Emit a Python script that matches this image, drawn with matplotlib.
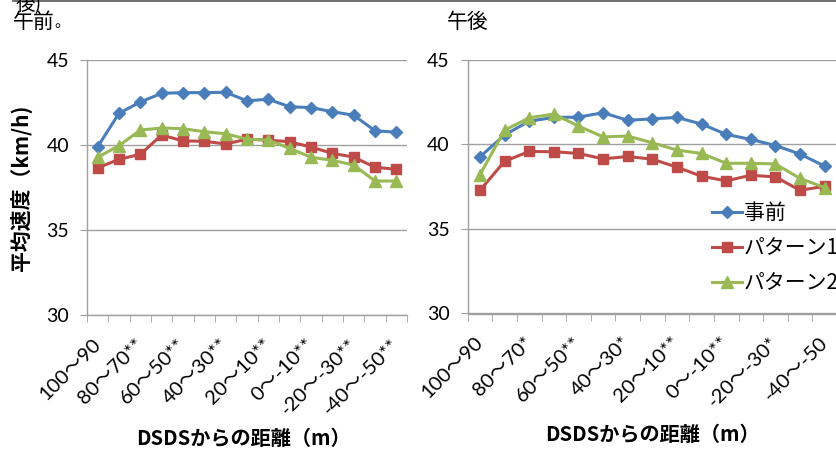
import matplotlib
matplotlib.use("Agg")
import matplotlib.pyplot as plt
from matplotlib.lines import Line2D
import numpy as np

# Distance bins from the DSDS (15 bins, labels on every other bin)
n_bins = 15
am_ticklabels = ["100～90", "80～70**", "60～50**", "40～30**",
                 "20～10**", "0～-10**", "-20～-30**", "-40～-50**"]
pm_ticklabels = ["100～90", "80～70*", "60～50**", "40～30*",
                 "20～10**", "0～-10**", "-20～-30*", "-40～-50"]

series_names = ["事前", "パターン1", "パターン2"]

# Morning average speeds (km/h)
am_before = [39.9, 41.86, 42.53, 43.04, 43.08, 43.08, 43.1, 42.6, 42.69,
             42.25, 42.2, 41.96, 41.75, 40.84, 40.75]
am_pattern1 = [38.65, 39.16, 39.45, 40.59, 40.24, 40.22, 40.06, 40.34, 40.29,
               40.19, 39.88, 39.51, 39.29, 38.69, 38.57]
am_pattern2 = [39.28, 39.96, 40.88, 41.0, 40.96, 40.78, 40.66, 40.34, 40.29,
               39.81, 39.28, 39.1, 38.82, 37.88, 37.88]

# Afternoon average speeds (km/h)
pm_before = [39.27, 40.57, 41.38, 41.6, 41.62, 41.88, 41.43, 41.52, 41.6,
             41.21, 40.6, 40.3, 39.94, 39.43, 38.72]
pm_pattern1 = [37.29, 39.01, 39.59, 39.57, 39.47, 39.15, 39.29, 39.13, 38.66,
               38.12, 37.85, 38.18, 38.08, 37.29, 37.53]
pm_pattern2 = [38.22, 40.85, 41.58, 41.8, 41.09, 40.45, 40.5, 40.1, 39.67,
               39.47, 38.89, 38.89, 38.85, 37.99, 37.45]

y_ticks = [30, 35, 40, 45]

colors = ["#4a7ebb", "#be4b48", "#98b954"]
markers = ["D", "s", "^"]
msizes = [6.5, 7.5, 8.5]

LATIN_JP = ["Lato", "Noto Sans CJK JP"]
JP = ["Noto Sans CJK JP", "DejaVu Sans"]
GRID = "#a0a0a0"

W, H = 836, 451
fig = plt.figure(figsize=(W / 100, H / 100), dpi=100)


def px_axes(x0, x1, ytop, ybot):
    return fig.add_axes([x0 / W, 1 - ybot / H, (x1 - x0) / W, (ybot - ytop) / H])


def style_axes(ax, ticklabels):
    x = np.arange(n_bins)
    ax.set_xlim(-0.5, n_bins - 0.5)
    ax.set_ylim(30, 45)
    ax.set_yticks(y_ticks)
    ax.set_yticklabels([str(v) for v in y_ticks], fontfamily=LATIN_JP, fontsize=14)
    ax.yaxis.grid(True, color=GRID, linewidth=1.0)
    ax.set_axisbelow(True)
    for s in ["top", "right"]:
        ax.spines[s].set_visible(False)
    for s in ["left", "bottom"]:
        ax.spines[s].set_color(GRID)
        ax.spines[s].set_linewidth(1.0)
    ax.tick_params(axis="y", length=5, color=GRID, pad=8, direction="out")
    # category boundary tick marks
    ax.set_xticks(np.arange(-0.5, n_bins, 1.0), minor=True)
    ax.tick_params(axis="x", which="minor", length=5, color=GRID, direction="out")
    ax.set_xticks(x[::2])
    ax.set_xticklabels(ticklabels, rotation=45, ha="right", va="center",
                       rotation_mode="anchor", fontfamily=LATIN_JP, fontsize=14.5)
    ax.tick_params(axis="x", which="major", length=0, pad=19)


def draw_series(ax, data):
    x = np.arange(n_bins)
    handles = []
    for vals, c, m, ms, name in zip(data, colors, markers, msizes, series_names):
        h, = ax.plot(x, vals, color=c, marker=m, markersize=ms, linewidth=2.2,
                     markeredgecolor=c, label=name, clip_on=False)
        handles.append(h)
    return handles


ax1 = px_axes(87, 407, 60, 315)
style_axes(ax1, am_ticklabels)
draw_series(ax1, [am_before, am_pattern1, am_pattern2])
ax1.set_ylabel("平均速度（km/h)", fontfamily=JP, fontweight="bold", fontsize=15,
               labelpad=10)
fig.text(243 / W, 1 - 438 / H, "DSDSからの距離（m）", fontfamily=JP,
         fontweight="bold", fontsize=14.5, ha="center", va="center")

ax2 = px_axes(467.7, 837, 60, 313.5)
style_axes(ax2, pm_ticklabels)
handles = draw_series(ax2, [pm_before, pm_pattern1, pm_pattern2])
fig.text(652 / W, 1 - 434 / H, "DSDSからの距離（m）", fontfamily=JP,
         fontweight="bold", fontsize=14.5, ha="center", va="center")

leg = ax2.legend(handles=handles, loc="upper left",
                 bbox_to_anchor=(712 / W, 1 - 202 / H), bbox_transform=fig.transFigure,
                 frameon=False, handlelength=1.45, handletextpad=0.08,
                 labelspacing=0.62, borderaxespad=0, borderpad=0,
                 prop={"family": JP, "size": 15})

# panel titles and page remnants at the top
fig.add_artist(Line2D([13 / W, 1.0], [1 - 1.2 / H, 1 - 1.2 / H], color="#555555",
                      linewidth=1.2))
fig.text(13 / W, 1 - 22 / H, "午前", fontfamily=JP, fontsize=15, va="center", ha="left")
fig.text(16 / W, 1 - 5 / H, "後)", fontfamily=JP, fontsize=14, va="center", ha="left")
fig.text(54 / W, 1 - 22 / H, "。", fontfamily=JP, fontsize=11, va="center", ha="left")
fig.text(447 / W, 1 - 22 / H, "午後", fontfamily=JP, fontsize=15, va="center", ha="left")

fig.savefig("out.png", dpi=100)
